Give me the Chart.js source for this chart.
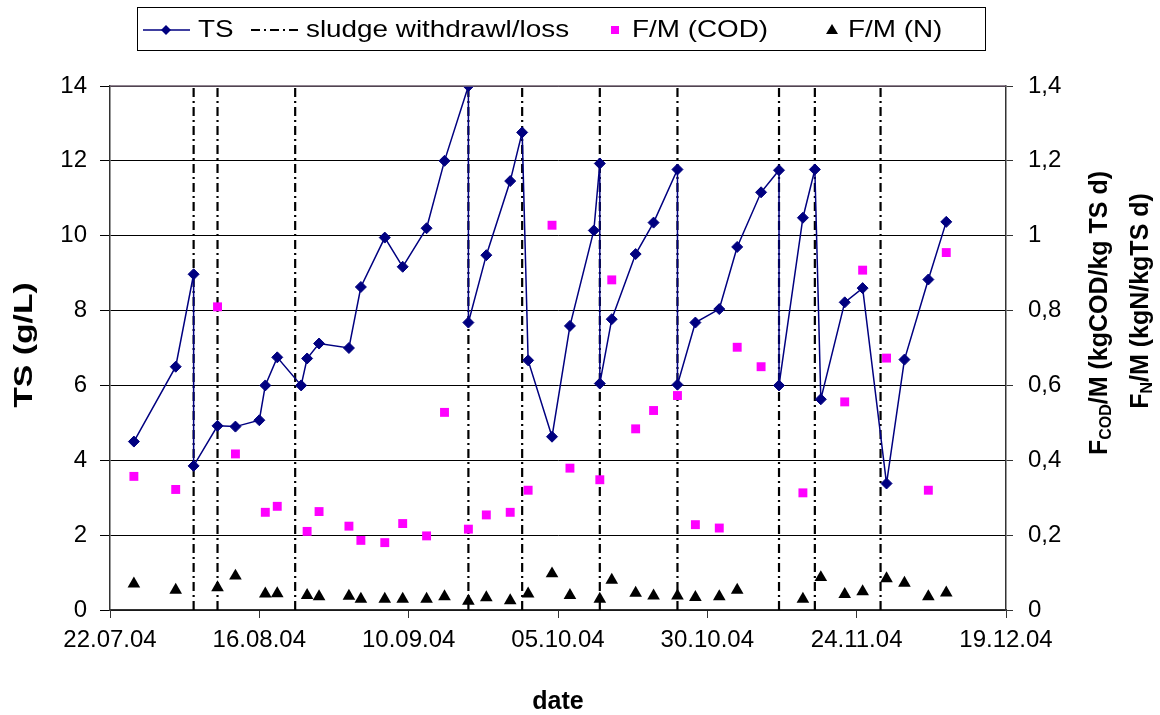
<!DOCTYPE html>
<html lang="en">
<head>
<meta charset="UTF-8">
<title>TS and F/M</title>
<script src="https://cdn.jsdelivr.net/npm/chart.js"></script>
<style>
  body { margin: 0; background: #fff; }
  #wrap { width: 1160px; height: 715px; }
</style>
</head>
<body>
<div id="wrap"><canvas id="chart" width="1160" height="715"></canvas></div>
<script>
// x axis: dates, ticks every 25 days
const xTicks = ['22.07.04', '16.08.04', '10.09.04', '05.10.04', '30.10.04', '24.11.04', '19.12.04'];
const leftTicks = [0, 2, 4, 6, 8, 10, 12, 14];
const rightTicks = [0, 0.2, 0.4, 0.6, 0.8, 1, 1.2, 1.4];

const tsDates = ['26.07.04', '02.08.04', '05.08.04', '05.08.04', '09.08.04', '12.08.04', '16.08.04', '17.08.04',
  '19.08.04', '23.08.04', '24.08.04', '26.08.04', '31.08.04', '02.09.04', '06.09.04', '09.09.04', '13.09.04',
  '16.09.04', '20.09.04', '20.09.04', '23.09.04', '27.09.04', '29.09.04', '30.09.04', '04.10.04', '07.10.04',
  '11.10.04', '12.10.04', '12.10.04', '14.10.04', '18.10.04', '21.10.04', '25.10.04', '25.10.04', '28.10.04',
  '01.11.04', '04.11.04', '08.11.04', '11.11.04', '11.11.04', '15.11.04', '17.11.04', '18.11.04', '22.11.04',
  '25.11.04', '29.11.04', '02.12.04', '06.12.04', '09.12.04'];
const tsValues = [4.5, 6.5, 8.97, 3.85, 4.92, 4.9, 5.07, 6.0, 6.75, 6.0, 6.72, 7.12, 7.0, 8.63, 9.95, 9.17, 10.2,
  12.0, 14.0, 7.68, 9.48, 11.46, 12.76, 6.67, 4.63, 7.59, 10.14, 11.93, 6.05, 7.77, 9.51, 10.35, 11.77, 6.02, 7.68,
  8.04, 9.7, 11.16, 11.75, 6.0, 10.48, 11.77, 5.63, 8.22, 8.6, 3.38, 6.69, 8.83, 10.37];

const codDates = ['26.07.04', '02.08.04', '09.08.04', '12.08.04', '17.08.04', '19.08.04', '24.08.04', '26.08.04',
  '31.08.04', '02.09.04', '06.09.04', '09.09.04', '13.09.04', '16.09.04', '20.09.04', '23.09.04', '27.09.04',
  '30.09.04', '04.10.04', '07.10.04', '12.10.04', '14.10.04', '18.10.04', '21.10.04', '25.10.04', '28.10.04',
  '01.11.04', '04.11.04', '08.11.04', '15.11.04', '22.11.04', '25.11.04', '29.11.04', '06.12.04', '09.12.04'];
const codValues = [0.357, 0.322, 0.81, 0.417, 0.261, 0.277, 0.21, 0.263, 0.224, 0.186, 0.18, 0.231, 0.198, 0.528,
  0.216, 0.254, 0.261, 0.32, 1.028, 0.379, 0.348, 0.882, 0.484, 0.533, 0.573, 0.228, 0.219, 0.702, 0.65, 0.313,
  0.556, 0.908, 0.673, 0.32, 0.955];

const nDates = ['26.07.04', '02.08.04', '09.08.04', '12.08.04', '17.08.04', '19.08.04', '24.08.04', '26.08.04',
  '31.08.04', '02.09.04', '06.09.04', '09.09.04', '13.09.04', '16.09.04', '20.09.04', '23.09.04', '27.09.04',
  '30.09.04', '04.10.04', '07.10.04', '12.10.04', '14.10.04', '18.10.04', '21.10.04', '25.10.04', '28.10.04',
  '01.11.04', '04.11.04', '15.11.04', '18.11.04', '22.11.04', '25.11.04', '29.11.04', '02.12.04', '06.12.04', '09.12.04'];
const nValues = [0.07, 0.053, 0.06, 0.091, 0.043, 0.044, 0.039, 0.036, 0.037, 0.029, 0.029, 0.029, 0.029, 0.036,
  0.024, 0.033, 0.025, 0.043, 0.097, 0.039, 0.029, 0.08, 0.045, 0.038, 0.038, 0.034, 0.036, 0.053, 0.029, 0.087,
  0.042, 0.049, 0.084, 0.072, 0.036, 0.046];

// sludge withdrawal / loss events (vertical lines over full TS range)
const withdrawalDates = ['05.08.04', '09.08.04', '22.08.04', '20.09.04', '29.09.04', '12.10.04', '25.10.04',
  '11.11.04', '17.11.04', '28.11.04'];

const FONT = '"Liberation Sans", Arial, sans-serif';
const DAY0 = Date.UTC(2004, 6, 22);

function dayOf(s) {
  const [d, m, y] = s.split('.').map(Number);
  return (Date.UTC(2000 + y, m - 1, d) - DAY0) / 86400000;
}
function fmtDay(v) {
  const dt = new Date(DAY0 + v * 86400000);
  const p = n => String(n).padStart(2, '0');
  return p(dt.getUTCDate()) + '.' + p(dt.getUTCMonth() + 1) + '.' + p(dt.getUTCFullYear() % 100);
}
function pts(dates, values) {
  return dates.map((d, i) => ({ x: dayOf(d), y: values[i] }));
}

const sludgePts = [];
withdrawalDates.forEach(d => {
  const x = dayOf(d);
  sludgePts.push({ x: x, y: leftTicks[0] }, { x: x, y: leftTicks[leftTicks.length - 1] }, { x: x, y: null });
});

// legend, axis titles with subscripts, plot border
const decorations = {
  id: 'decorations',
  afterDraw(chart) {
    const ctx = chart.ctx;
    const a = chart.chartArea;
    const ds = chart.data.datasets;
    ctx.save();

    // top border of plot area
    ctx.strokeStyle = '#6b5b6b';
    ctx.lineWidth = 1.5;
    ctx.beginPath();
    ctx.moveTo(a.left, a.top);
    ctx.lineTo(a.right, a.top);
    ctx.stroke();

    // legend
    ctx.strokeStyle = '#000';
    ctx.lineWidth = 1;
    ctx.strokeRect(137.5, 7.5, 848, 43);
    const ly = 30;
    ctx.font = '24px ' + FONT;
    ctx.fillStyle = '#000';
    ctx.textBaseline = 'middle';
    ctx.textAlign = 'left';
    function legendText(t, x) {
      ctx.save();
      ctx.translate(x, ly);
      ctx.scale(1.16, 1);
      ctx.fillText(t, 0, 0);
      ctx.restore();
    }

    // TS
    ctx.strokeStyle = ds[0].borderColor;
    ctx.lineWidth = 1.5;
    ctx.beginPath(); ctx.moveTo(143, ly); ctx.lineTo(190, ly); ctx.stroke();
    ctx.fillStyle = ds[0].pointBackgroundColor;
    ctx.beginPath();
    ctx.moveTo(166, ly - 5); ctx.lineTo(171, ly); ctx.lineTo(166, ly + 5); ctx.lineTo(161, ly); ctx.closePath();
    ctx.fill();
    ctx.fillStyle = '#000';
    legendText(ds[0].label, 198);

    // sludge
    ctx.strokeStyle = '#000';
    ctx.lineWidth = 2;
    ctx.setLineDash(ds[1].borderDash);
    ctx.beginPath(); ctx.moveTo(251, ly); ctx.lineTo(299, ly); ctx.stroke();
    ctx.setLineDash([]);
    legendText(ds[1].label, 306);

    // COD square
    ctx.fillStyle = ds[2].pointBackgroundColor;
    ctx.fillRect(611, ly - 4, 8, 8);
    ctx.fillStyle = '#000';
    legendText(ds[2].label, 632);

    // N triangle
    ctx.beginPath();
    ctx.moveTo(832, ly - 6); ctx.lineTo(838, ly + 4); ctx.lineTo(826, ly + 4); ctx.closePath();
    ctx.fill();
    legendText(ds[3].label, 848);

    // left title
    ctx.save();
    ctx.translate(32, 345);
    ctx.rotate(-Math.PI / 2);
    ctx.scale(1.35, 1);
    ctx.font = 'bold 25px ' + FONT;
    ctx.textAlign = 'center';
    ctx.textBaseline = 'alphabetic';
    ctx.fillText('TS (g/L)', 0, 0);
    ctx.restore();

    // right title, two lines with subscripts
    const big = 'bold 25px ' + FONT;
    const small = 'bold 16px ' + FONT;
    function runLine(runs, bx, cy) {
      ctx.save();
      ctx.translate(bx, cy);
      ctx.rotate(-Math.PI / 2);
      ctx.textAlign = 'left';
      ctx.textBaseline = 'alphabetic';
      let w = 0;
      runs.forEach(r => { ctx.font = r.sub ? small : big; w += ctx.measureText(r.t).width; });
      let x = -w / 2;
      runs.forEach(r => {
        ctx.font = r.sub ? small : big;
        ctx.fillText(r.t, x, r.sub ? 4 : 0);
        x += ctx.measureText(r.t).width;
      });
      ctx.restore();
    }
    runLine([{ t: 'F' }, { t: 'COD', sub: true }, { t: '/M (kgCOD/kg TS d)' }], 1107, 313);
    runLine([{ t: 'F' }, { t: 'N', sub: true }, { t: '/M (kgN/kgTS d)' }], 1148, 301);

    ctx.restore();
  }
};

new Chart(document.getElementById('chart'), {
  type: 'scatter',
  data: {
    datasets: [
      {
        label: 'TS',
        data: pts(tsDates, tsValues),
        yAxisID: 'y',
        showLine: true,
        borderColor: '#000080',
        borderWidth: 1.5,
        pointStyle: 'rectRot',
        pointRadius: 5.5,
        pointBackgroundColor: '#000080',
        pointBorderColor: '#000080',
        pointBorderWidth: 1,
        order: 3
      },
      {
        label: 'sludge withdrawl/loss',
        data: sludgePts,
        yAxisID: 'y',
        showLine: true,
        spanGaps: false,
        borderColor: '#000',
        borderWidth: 2.2,
        borderDash: [9, 4, 2, 4],
        pointRadius: 0,
        order: 4
      },
      {
        label: 'F/M (COD)',
        data: pts(codDates, codValues),
        yAxisID: 'y2',
        pointStyle: 'rect',
        pointRadius: 6.3,
        pointBackgroundColor: '#ff00ff',
        pointBorderWidth: 0,
        order: 2
      },
      {
        label: 'F/M (N)',
        data: pts(nDates, nValues),
        yAxisID: 'y2',
        pointStyle: 'triangle',
        pointRadius: 7.3,
        pointBackgroundColor: '#000',
        pointBorderWidth: 0,
        order: 1
      }
    ]
  },
  options: {
    responsive: false,
    animation: false,
    devicePixelRatio: 1,
    layout: { padding: { top: 86, left: 0, right: 0, bottom: 0 } },
    plugins: {
      legend: { display: false },
      tooltip: { enabled: false }
    },
    scales: {
      x: {
        type: 'linear',
        position: 'bottom',
        min: dayOf(xTicks[0]),
        max: dayOf(xTicks[xTicks.length - 1]),
        afterBuildTicks: s => { s.ticks = xTicks.map(t => ({ value: dayOf(t) })); },
        afterFit: s => { s.height = 105; },
        ticks: {
          callback: v => fmtDay(v),
          color: '#000',
          font: { family: FONT, size: 24 },
          padding: 8,
          maxRotation: 0,
          autoSkip: false
        },
        grid: { drawOnChartArea: false, drawTicks: true, tickLength: 8, color: '#333' },
        border: { color: '#333', width: 1.5 },
        title: {
          display: true,
          text: 'date',
          color: '#000',
          font: { family: FONT, size: 25, weight: 'bold', lineHeight: 1 },
          padding: { top: 0, bottom: 0 }
        }
      },
      y: {
        position: 'left',
        min: leftTicks[0],
        max: leftTicks[leftTicks.length - 1],
        afterBuildTicks: s => { s.ticks = leftTicks.map(v => ({ value: v })); },
        afterFit: s => { s.width = 110; },
        ticks: {
          color: '#000',
          font: { family: FONT, size: 24 },
          padding: 13
        },
        grid: { color: '#000', lineWidth: 1, tickLength: 10, drawTicks: true },
        border: { color: '#333', width: 1.5 }
      },
      y2: {
        position: 'right',
        min: rightTicks[0],
        max: rightTicks[rightTicks.length - 1],
        afterBuildTicks: s => { s.ticks = rightTicks.map(v => ({ value: v })); },
        afterFit: s => { s.width = 154; },
        ticks: {
          color: '#000',
          font: { family: FONT, size: 24 },
          padding: 15,
          callback: v => String(Math.round(v * 10) / 10).replace('.', ',')
        },
        grid: { drawOnChartArea: false, drawTicks: true, tickLength: 7, color: '#333' },
        border: { color: '#333', width: 1.5 }
      }
    }
  },
  plugins: [decorations]
});
</script>
</body>
</html>
